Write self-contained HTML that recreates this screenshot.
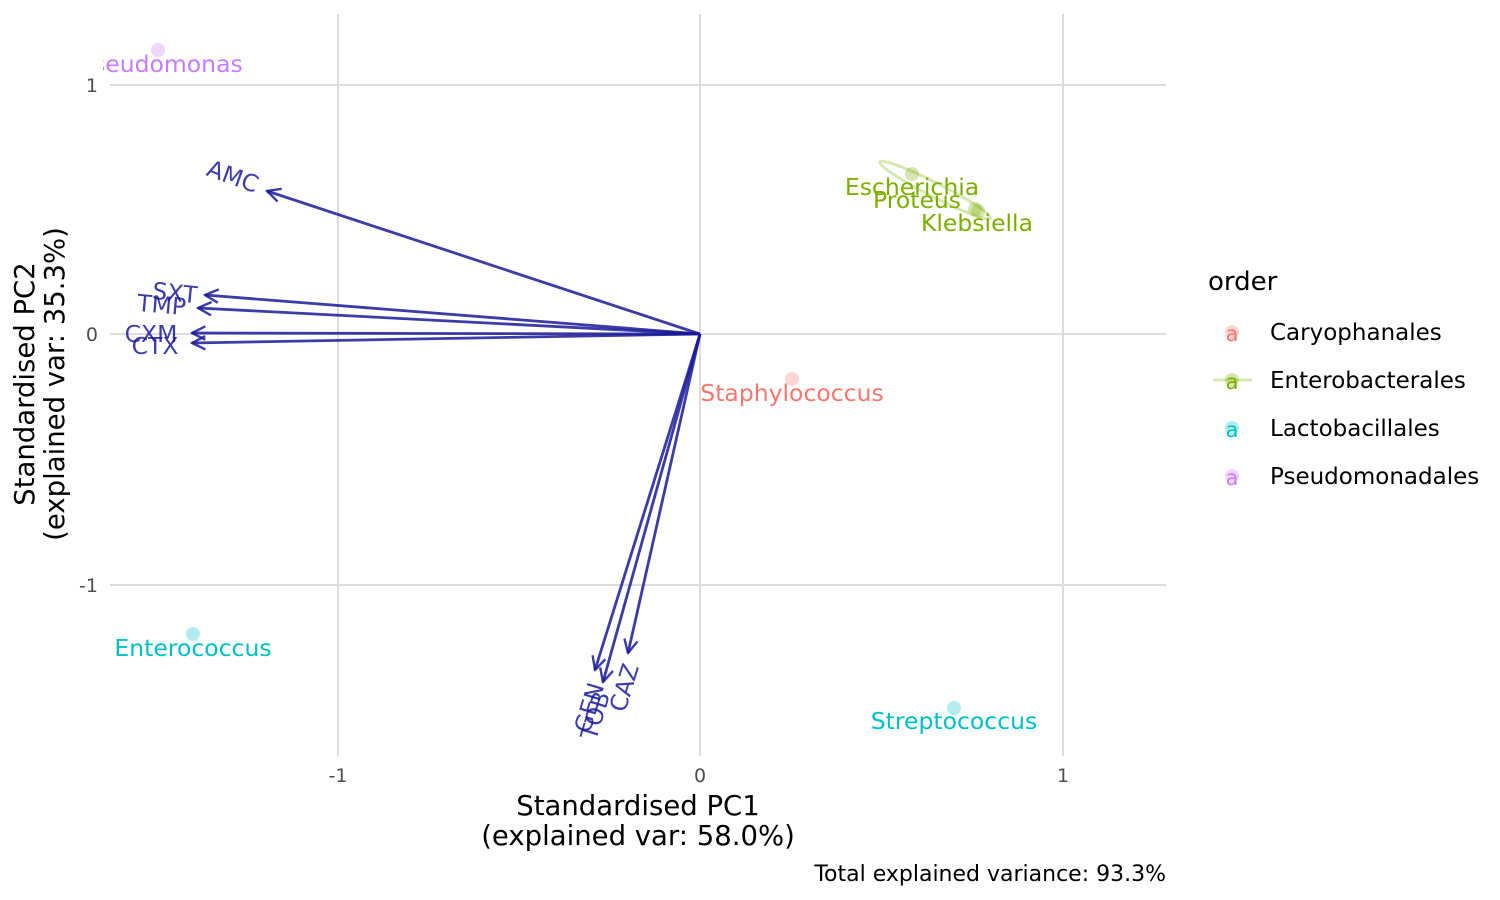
<!DOCTYPE html>
<html><head><meta charset="utf-8"><style>body{margin:0;background:#fff}svg{display:block}text{font-family:"DejaVu Sans","Liberation Sans",sans-serif}</style></head>
<body>
<svg width="1500" height="900" viewBox="0 0 1500 900" xmlns="http://www.w3.org/2000/svg">
<defs>
<marker id="ah" viewBox="0 0 12 12" refX="11" refY="6" markerWidth="16" markerHeight="16" markerUnits="userSpaceOnUse" orient="auto">
<path d="M1,1 L11,6 L1,11" fill="none" stroke="#1a1a99" stroke-opacity="0.85" stroke-width="1.8"/>
</marker>
<clipPath id="pc"><rect x="103" y="0" width="1070" height="760"/></clipPath>
</defs>
<g stroke="#dcdcdc" stroke-width="2">
<line x1="338" y1="14" x2="338" y2="756"/><line x1="700" y1="14" x2="700" y2="756"/><line x1="1063" y1="14" x2="1063" y2="756"/>
<line x1="110" y1="85" x2="1166" y2="85"/><line x1="110" y1="334" x2="1166" y2="334"/><line x1="110" y1="585" x2="1166" y2="585"/>
</g>
<g font-size="19" fill="#4d4d4d">
<text x="338" y="782" text-anchor="middle">-1</text><text x="700" y="782" text-anchor="middle">0</text><text x="1063" y="782" text-anchor="middle">1</text>
<text x="98" y="92" text-anchor="end">1</text><text x="98" y="341" text-anchor="end">0</text><text x="98" y="592" text-anchor="end">-1</text>
</g>
<g font-size="27.5" fill="#000" text-anchor="middle">
<text x="638" y="815">Standardised PC1</text><text x="638" y="845">(explained var: 58.0%)</text>
<g transform="translate(34,384) rotate(-90)"><text x="0" y="0">Standardised PC2</text><text x="0" y="30">(explained var: 35.3%)</text></g>
</g>
<text x="1166" y="881" font-size="22" text-anchor="end" fill="#000">Total explained variance: 93.3%</text>
<g clip-path="url(#pc)">
<ellipse cx="935" cy="190" rx="62" ry="7" transform="rotate(27 935 190)" fill="none" stroke="#7cae00" stroke-opacity="0.3" stroke-width="3"/>
<g fill-opacity="0.3">
<circle cx="158" cy="50" r="7" fill="#c77cff"/>
<circle cx="912" cy="174" r="7" fill="#7cae00"/><circle cx="978" cy="211" r="7" fill="#7cae00"/><circle cx="975" cy="209" r="7" fill="#7cae00"/>
<circle cx="792" cy="379" r="7" fill="#f8766d"/>
<circle cx="193" cy="634" r="7" fill="#00bfc4"/><circle cx="954" cy="708" r="7" fill="#00bfc4"/>
</g>
<g font-size="23.5" text-anchor="middle">
<text x="161" y="72" fill="#c77cff">Pseudomonas</text>
<text x="912" y="195" fill="#7cae00">Escherichia</text>
<text x="917" y="208" fill="#7cae00">Proteus</text>
<text x="977" y="231" fill="#7cae00">Klebsiella</text>
<text x="792" y="401" fill="#f8766d">Staphylococcus</text>
<text x="193" y="656" fill="#00bfc4">Enterococcus</text>
<text x="954" y="729" fill="#00bfc4">Streptococcus</text>
</g>
</g>
<g stroke="#1a1a99" stroke-opacity="0.85" stroke-width="2.8" marker-end="url(#ah)">
<line x1="700" y1="334" x2="267" y2="191"/>
<line x1="700" y1="334" x2="205" y2="295"/>
<line x1="700" y1="334" x2="198" y2="308"/>
<line x1="700" y1="334" x2="192" y2="333"/>
<line x1="700" y1="334" x2="192" y2="343"/>
<line x1="700" y1="334" x2="595" y2="670"/>
<line x1="700" y1="334" x2="603" y2="682"/>
<line x1="700" y1="334" x2="628" y2="653"/>
</g>
<g font-size="23.5" fill="#1a1a99" fill-opacity="0.85" text-anchor="middle">
<text transform="translate(230,184) rotate(20)">AMC</text>
<text transform="translate(174,301) rotate(6)">SXT</text>
<text transform="translate(161,313) rotate(5)">TMP</text>
<text x="151" y="342">CXM</text>
<text x="155" y="354">CTX</text>
<text transform="translate(597,710) rotate(-73)">GEN</text>
<text transform="translate(603,718) rotate(-73)">TOB</text>
<text transform="translate(632,690) rotate(-73)">CAZ</text>
</g>
<text x="1208" y="290" font-size="26" fill="#000">order</text>
<g font-size="23" fill="#000">
<text x="1270" y="340">Caryophanales</text><text x="1270" y="388">Enterobacterales</text><text x="1270" y="436">Lactobacillales</text><text x="1270" y="484">Pseudomonadales</text>
</g>
<line x1="1213" y1="380" x2="1252" y2="380" stroke="#7cae00" stroke-opacity="0.3" stroke-width="3"/>
<g fill-opacity="0.3">
<circle cx="1232" cy="332" r="7" fill="#f8766d"/><circle cx="1232" cy="380" r="7" fill="#7cae00"/><circle cx="1232" cy="428" r="7" fill="#00bfc4"/><circle cx="1232" cy="476" r="7" fill="#c77cff"/>
</g>
<g font-size="21" text-anchor="middle">
<text x="1232" y="341" fill="#f8766d">a</text><text x="1232" y="389" fill="#7cae00">a</text><text x="1232" y="437" fill="#00bfc4">a</text><text x="1232" y="485" fill="#c77cff">a</text>
</g>
</svg>
</body></html>
